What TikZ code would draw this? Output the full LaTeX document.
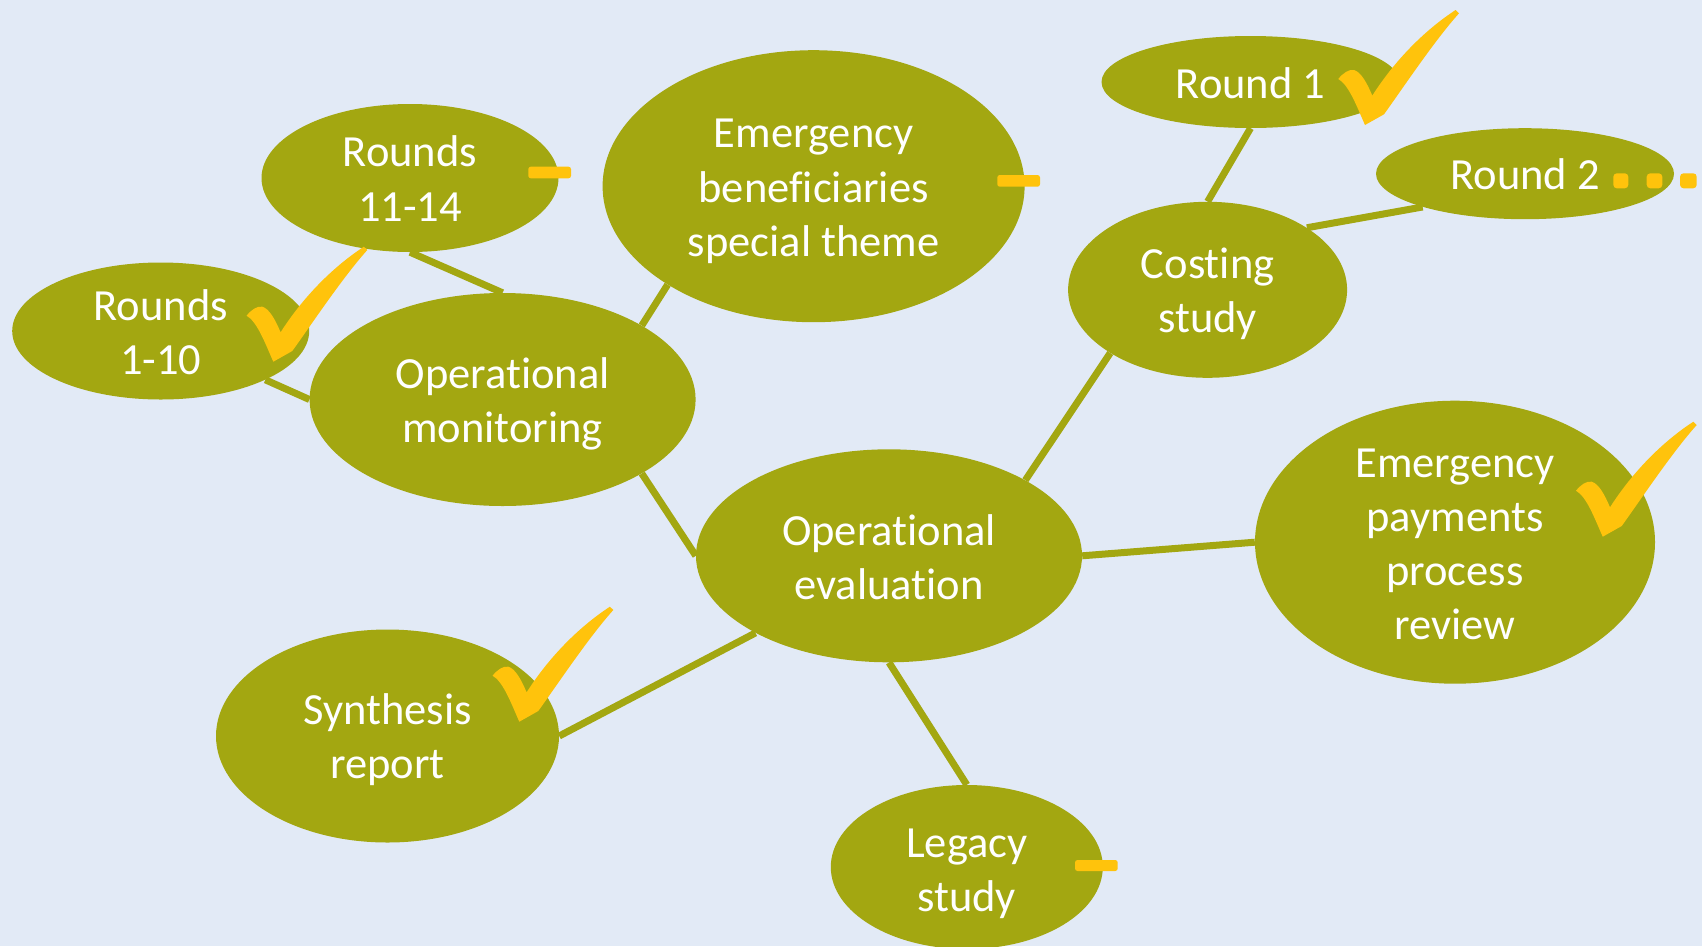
\documentclass[tikz,border=0pt]{standalone}
\usepackage{fontspec}
\setmainfont{Carlito}[Ligatures={TeX,NoCommon}]
\usetikzlibrary{shapes.geometric}
\definecolor{olive}{RGB}{163,167,17}
\definecolor{bgblue}{RGB}{226,234,246}
\definecolor{chk}{RGB}{255,195,12}
\tikzset{
  bubble/.style={ellipse, fill=olive, inner sep=0pt},
  btext/.style={inner sep=0pt, text=white, align=center,
    font=\fontsize{44.5}{54.3}\selectfont},
  link/.style={draw=olive, line width=7pt},
  dashmark/.style={fill=chk, rounded corners=2.5pt},
  dotmark/.style={fill=chk, rounded corners=3.5pt},
  tick/.pic={
    \fill[chk] (0,0) .. controls (-8,-18) and (-16,-40) .. (-26.7,-46)
      .. controls (-22,-52) and (-16,-56) .. (-11,-55)
      .. controls (-4,-53) and (2,-42) .. (7.3,-29.4)
      .. controls (30,-65) and (60,-95) .. (90.6,-115)
      -- (94,-111.7)
      .. controls (70,-85) and (40,-40) .. (19,-10.7)
      -- cycle;
  }
}
\begin{document}
\begin{tikzpicture}[x=1pt,y=-1pt]
\useasboundingbox (0,0) rectangle (1702,946);
\fill[bgblue] (0,0) rectangle (1702,946);

\node[bubble, minimum width=297pt, minimum height=148pt] (r1114) at (410,178) {};
\node[bubble, minimum width=422pt, minimum height=272pt] (ebst) at (813.6,186.2) {};
\node[bubble, minimum width=298pt, minimum height=92pt] (round1) at (1250.5,82) {};
\node[bubble, minimum width=298pt, minimum height=91pt] (round2) at (1525,173.7) {};
\node[bubble, minimum width=279pt, minimum height=176pt] (costing) at (1207.6,289.8) {};
\node[bubble, minimum width=297pt, minimum height=137pt] (r110) at (160.7,331) {};
\node[bubble, minimum width=386pt, minimum height=213pt] (opmon) at (502.6,399.5) {};
\node[bubble, minimum width=386pt, minimum height=213pt] (opeval) at (889,555.8) {};
\node[bubble, minimum width=400pt, minimum height=283pt] (epr) at (1455,542.2) {};
\node[bubble, minimum width=343pt, minimum height=213pt] (synth) at (387.5,736) {};
\node[bubble, minimum width=272pt, minimum height=164pt] (legacy) at (966.8,867) {};

\node[btext] (r1114-t) at ([yshift=-0.5pt]r1114.center) {Rounds\\11-14};
\node[btext] (ebst-t) at ([yshift=-5.4pt]ebst.center) {Emergency\\benef\kern0pt iciaries\\special theme};
\node[btext] (round1-t) at ([yshift=-1pt]round1.center) {Round 1};
\node[btext] (round2-t) at ([yshift=-1pt]round2.center) {Round 2};
\node[btext] (costing-t) at ([yshift=-3.8pt]costing.center) {Cost\kern0pt ing\\study};
\node[btext] (r110-t) at ([yshift=-1pt]r110.center) {Rounds\\1-10};
\node[btext] (opmon-t) at ([yshift=-4.3pt]opmon.center) {Operat\kern0pt ional\\monitoring};
\node[btext] (opeval-t) at ([yshift=-1.6pt]opeval.center) {Operat\kern0pt ional\\evaluation};
\node[btext] (epr-t) at ([yshift=-2.2pt]epr.center) {Emergency\\payments\\process\\review};
\node[btext] (synth-t) at ([yshift=-3.8pt]synth.center) {Synthesis\\report};
\node[btext] (legacy-t) at ([yshift=-6.5pt]legacy.center) {Legacy\\study};

\draw[link] (r1114.south) -- (opmon.north);
\draw[link] (r110.-25.4) -- (opmon.west);
\draw[link] (opmon.28.8) -- (ebst.-146.8);
\draw[link] (opmon.-28.8) -- (opeval.west);
\draw[link] (opeval.29.8) -- (costing.-147.8);
\draw[link] (costing.north) -- (round1.south);
\draw[link] (costing.32.6) -- (round2.-162.8);
\draw[link] (opeval.east) -- (epr.west);
\draw[link] (opeval.-150.4) -- (synth.east);
\draw[link] (opeval.south) -- (legacy.north);

\pic at (1365,125) {tick};
\pic at (273.3,361.7) {tick};
\pic at (519.3,721.7) {tick};
\pic at (1602.7,536.7) {tick};

\fill[dashmark] (528.3,166.7) rectangle (571,178.3);
\fill[dashmark] (997.3,175) rectangle (1040,186.7);
\fill[dashmark] (1075,860) rectangle (1117.7,871);

\fill[dotmark] (1613.3,173.3) rectangle (1628.3,188.3);
\fill[dotmark] (1646.7,173.3) rectangle (1662.3,188.3);
\fill[dotmark] (1680,173.3) rectangle (1696.7,188.3);
\end{tikzpicture}
\end{document}
